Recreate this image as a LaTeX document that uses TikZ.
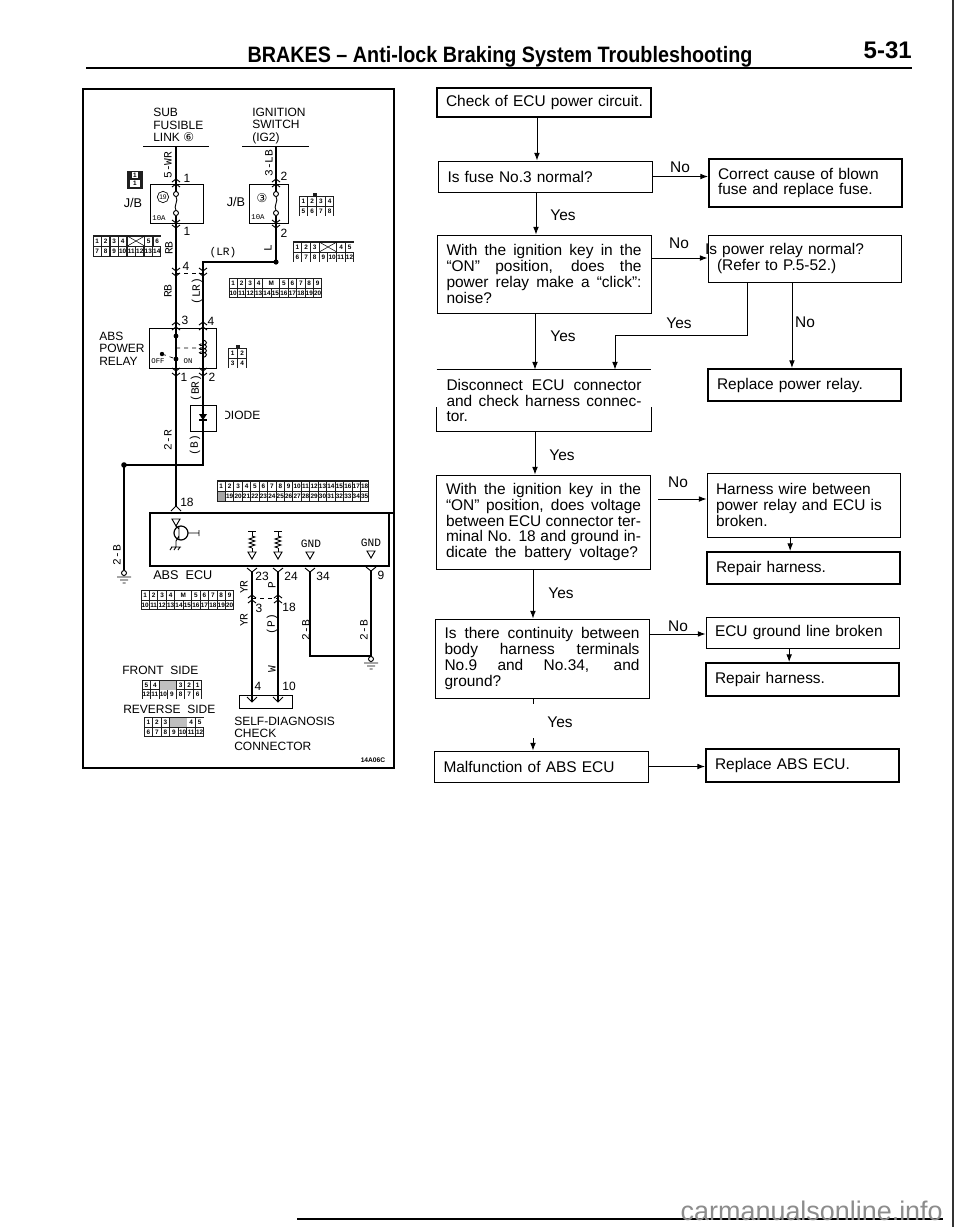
\documentclass[tikz,border=0pt]{standalone}
\usepackage{fontspec}
\setmainfont{Liberation Sans}
\newfontfamily\monofam{Liberation Mono}
\newfontfamily\symfam{DejaVu Sans}
\usetikzlibrary{arrows.meta,decorations.pathmorphing}
\tikzset{>={Latex[width=1.5mm,length=2mm]}}
\newcommand\spreadline[2]{\makebox[#1pt][s]{#2}}
\tikzset{
  flowbox/.style={draw,line width=0.7pt,inner sep=0pt,minimum width=160.5pt,text width=146.25pt,align=justify,font=\fontsize{11.6pt}{11.8pt}\selectfont},
  endbox/.style={draw,line width=0.7pt,inner sep=0pt,minimum width=144.75pt,text width=131.25pt,align=left,font=\fontsize{11.6pt}{11.8pt}\selectfont},
  heavy/.style={line width=1.5pt},
  bare/.style={draw=none},
  flowline/.style={->,line width=0.7pt},
  tag/.style={inner sep=0pt,font=\fontsize{11.6pt}{11.8pt}\selectfont},
  wire/.style={line width=1.1pt},
  thinwire/.style={line width=0.7pt},
  frameline/.style={line width=1.1pt},
  wiretag/.style={inner sep=0pt,rotate=90,font=\monofam\fontsize{8.4pt}{9pt}\selectfont},
  pinnum/.style={inner sep=0pt,font=\fontsize{9pt}{9pt}\selectfont},
  heading/.style={inner sep=0pt,anchor=west,align=left,font=\fontsize{9pt}{9.4pt}\selectfont},
  pincell/.style={fill=white,inner sep=0pt,font=\bfseries\fontsize{4.8pt}{5pt}\selectfont},
}
% y runs downward, one unit is one pixel of the page
\newcommand\mateup[2]{\draw[thinwire] (#1-4,#2+3) -- (#1,#2) -- (#1+4,#2+3) (#1-4,#2+8) -- (#1,#2+5) -- (#1+4,#2+8);}
\newcommand\matedown[2]{\draw[thinwire] (#1-4,#2-3) -- (#1,#2) -- (#1+4,#2-3) (#1-4,#2+2) -- (#1,#2+5) -- (#1+4,#2+2);}
\newcommand\forkup[2]{\draw[thinwire] (#1-5,#2-4) -- (#1,#2) -- (#1+5,#2-4);}
\newcommand\gndmark[2]{\draw[thinwire] (#1-4,#2-4) -- (#1+4,#2-4) -- (#1,#2+3) -- cycle;}
\newcommand\earthmark[2]{\draw[thinwire] (#1,#2) circle (2.5) (#1-7,#2+4) -- (#1+7,#2+4) (#1-4,#2+7) -- (#1+4,#2+7) (#1-1.5,#2+10) -- (#1+1.5,#2+10);}
\newcommand\resmark[2]{\draw[thinwire] (#1-4,#2) -- (#1+4,#2) (#1,#2) -- (#1,#2+5);
  \draw[thinwire,decorate,decoration={zigzag,segment length=3pt,amplitude=2.2pt}] (#1,#2+5) -- (#1,#2+17);
  \draw[thinwire] (#1,#2+17) -- (#1,#2+21);
  \gndmark{#1}{#2+25}}
\newcommand\connblock[4]{\fill[black!88] (#1,#2) rectangle ++(#3,#4);}
\newcommand\connrow[6]{\foreach \lab [count=\i from 0] in {#6}
  \path (#2+\i*#4+#4/2,#3) node (#1-\i) [pincell,minimum width=#4*0.75pt-0.8pt,minimum height=#5*0.75pt] {\lab};}
\newcommand\crosscell[5]{\path (#2,#3) node (#1) [pincell,minimum width=#4*0.75pt-0.8pt,minimum height=#5*0.75pt] {};
  \draw[line width=0.4pt] (#1.north west) -- (#1.south east) (#1.north east) -- (#1.south west);}

\begin{document}
\begin{tikzpicture}[x=0.75pt,y=-0.75pt]
\useasboundingbox (0,0) rectangle (960,1229);

\path (500,62) node (pagetitle) [anchor=base,inner sep=0pt,xscale=0.887,transform shape,font=\bfseries\fontsize{16.7pt}{17pt}\selectfont] {BRAKES -- Anti-lock Braking System Troubleshooting};

\path (912,58) node (pagenumber) [anchor=base east,inner sep=0pt,font=\bfseries\fontsize{18pt}{18pt}\selectfont] {5-31};

\coordinate (ruletop) at (86,68);
\draw[line width=1.9pt] (ruletop) -- (912,68);

\coordinate (rulefoot) at (297,1219);
\draw[line width=1.5pt] (rulefoot) -- (943,1219);

\coordinate (edgeright) at (953,0);
\draw[line width=0.8pt,black!80] (edgeright) -- (953,1227);

\path (943,1220) node (sitemark) [anchor=base east,inner sep=0pt,text=black!45,font=\fontsize{20.2pt}{21pt}\selectfont] {carmanualsonline.info};

\draw[frameline] (83,89) rectangle (394,768);

\path (153,125) node (fusehead) [heading] {SUB\\FUSIBLE\\LINK {\symfam ⑥}};

\path (252,126) node (switchhead) [heading] {IGNITION\\SWITCH\\(IG2)};

\draw[line width=0.6pt] (143,146) -- (209,146) (242,146) -- (309,146);

\path (176.5,203.5) node (jbleft) [draw,line width=0.6pt,minimum width=39.75pt,minimum height=29.25pt] {};

\path (268.5,203.5) node (jbright) [draw,line width=0.6pt,minimum width=29.25pt,minimum height=29.25pt] {};

\path (133,203) node (jbtextl) [tag,font=\fontsize{9.5pt}{10pt}\selectfont] {J/B};

\path (236,202) node (jbtextr) [tag,font=\fontsize{9.5pt}{10pt}\selectfont] {J/B};

\path (163,197) node (circlel) [circle,draw,line width=0.5pt,inner sep=0pt,minimum size=8.5pt,font=\fontsize{5pt}{5pt}\selectfont] {19};

\path (262,198) node (circler) [tag,font=\symfam\fontsize{9pt}{9pt}\selectfont] {③};

\path (159,218) node (ampl) [tag,font=\monofam\fontsize{5.5pt}{6pt}\selectfont] {10A};

\path (258,217) node (ampr) [tag,font=\monofam\fontsize{5.5pt}{6pt}\selectfont] {10A};

\draw[wire] (176,146) -- (176,191.5) (176,215.5) -- (176,506);

\draw[wire] (276,146) -- (276,191.5) (276,215.5) -- (276,262) -- (203,262) -- (203,465) -- (124,465) -- (124,570);

\fill (276,262) circle (2.6);

\fill (124,465) circle (2.8);

\foreach \fx in {176,276} {
  \draw[thinwire] (\fx,194) circle (2.5) (\fx,213) circle (2.5);
  \draw[thinwire] (\fx,196.5) .. controls (\fx+3,201) and (\fx-3,206) .. (\fx,210.5);
}

\mateup{176}{179}
\mateup{276}{179}
\matedown{176}{223}
\matedown{276}{223}
\matedown{176}{271}
\matedown{203}{271}
\mateup{176}{322}
\mateup{203}{322}
\matedown{176}{371}
\matedown{203}{371}

\draw[thinwire,dashed] (176,273) -- (203,273);

\path (187,178) node (pina) [pinnum] {1};

\path (284,176) node (pinb) [pinnum] {2};

\path (187,231) node (pinc) [pinnum] {1};

\path (284,233) node (pind) [pinnum] {2};

\path (186,266) node (pine) [pinnum] {4};

\path (185,320) node (pinf) [pinnum] {3};

\path (211,321) node (ping) [pinnum] {4};

\path (184,377) node (pinh) [pinnum] {1};

\path (212,377) node (pini) [pinnum] {2};

\path (187,502) node (pinj) [pinnum] {18};

\path (168,165) node (tagwr) [wiretag] {5-WR};

\path (269,163) node (taglb) [wiretag] {3-LB};

\path (169,248) node (tagrb) [wiretag] {RB};

\path (268,248) node (tagl) [wiretag] {L};

\path (168,291) node (tagrbb) [wiretag] {RB};

\path (197,291) node (taglr) [wiretag] {(LR)};

\path (223,253) node (taglrh) [wiretag,rotate=-90] {(LR)};

\path (196,388) node (tagbr) [wiretag] {(BR)};

\path (168,440) node (tagr) [wiretag] {2-R};

\path (195,445) node (tagb) [wiretag] {(B)};

\path (117,555) node (tagbb) [wiretag] {2-B};

\path (182.5,348) node (relaybox) [draw,line width=0.6pt,minimum width=50.25pt,minimum height=30pt] {};

\path (99,348.5) node (relayhead) [heading] {ABS\\POWER\\RELAY};

\fill (176,336) circle (2.4) (176,359) circle (2.4) (162,354) circle (2.2);

\draw[line width=0.5pt,dashed] (176,348) -- (203,348) (162,354) -- (176,359);

\draw[thinwire,decorate,decoration={coil,aspect=0.5,segment length=3pt,amplitude=2.6pt}] (203,340) -- (203,359);

\path (158,361) node (offtag) [tag,font=\monofam\fontsize{5.5pt}{6pt}\selectfont] {OFF};

\path (188,361) node (ontag) [tag,font=\monofam\fontsize{5.5pt}{6pt}\selectfont] {ON};

\path (203,418) node (diodebox) [draw,line width=0.6pt,fill=white,minimum width=19.5pt,minimum height=19.5pt] {};

\draw[wire] (203,405) -- (203,431);

\fill (199,414) -- (207,414) -- (203,420) -- cycle;

\draw[line width=0.9pt] (199,420) -- (207,420);

\path (222,415) node (diodetext) [heading] {DIODE};

% the scan has lost the stem of the first letter
\fill[white] (220.5,409) rectangle (224.5,421);

\draw[thinwire] (171,511) -- (176,506) -- (181,511);

\draw[frameline] (394,513) -- (150,513) -- (150,566) -- (389,566) -- (389,513);

\path (153,575) node (ecutext) [heading,font=\fontsize{9.5pt}{10pt}\selectfont] {ABS\ \ ECU};

\gndmark{176}{523}

\draw[line width=0.9pt] (181,533) circle (7);

\draw[thinwire] (176,526) -- (179,529) (179,527) -- (179,539) (179,536) -- (176,541) -- (176,547) (188,533) -- (199,533) (199,530) -- (199,536) (171,547) -- (181,547) (172,547) -- (170,550) (176,547) -- (174,550) (180,547) -- (178,550);

\resmark{252}{531}
\resmark{278}{531}

\path (311,544) node (gndone) [tag,font=\monofam\fontsize{8.4pt}{9pt}\selectfont] {GND};

\path (371,543) node (gndtwo) [tag,font=\monofam\fontsize{8.4pt}{9pt}\selectfont] {GND};

\gndmark{310}{556}
\gndmark{371}{555}

\forkup{252}{572}
\forkup{278}{572}
\forkup{310}{572}
\forkup{371}{571}

\draw[wire] (252,572) -- (252,702) (278,572) -- (278,702);

\draw[wire] (310,572) -- (310,656) -- (371,656) -- (371,571);

\mateup{252}{595}
\mateup{278}{595}

\draw[thinwire,dashed] (252,598) -- (278,598);

\earthmark{124}{573}
\earthmark{371}{659}

\path (262,576) node (pink) [pinnum] {23};

\path (291,576) node (pinl) [pinnum] {24};

\path (323,576) node (pinm) [pinnum] {34};

\path (381,575) node (pinn) [pinnum] {9};

\path (259,608) node (pino) [pinnum] {3};

\path (289,607) node (pinp) [pinnum] {18};

\path (258,686) node (pinq) [pinnum] {4};

\path (289,686) node (pinr) [pinnum] {10};

\path (244,587) node (tagyr) [wiretag] {YR};

\path (272,585) node (tagp) [wiretag] {P};

\path (244,620) node (tagyrb) [wiretag] {YR};

\path (272,624) node (tagpb) [wiretag] {(P)};

\path (272,669) node (tagw) [wiretag] {W};

\path (306,630) node (tagbc) [wiretag] {2-B};

\path (364,630) node (tagbd) [wiretag] {2-B};

\draw[line width=0.6pt] (239,695) rectangle (292,708);

\draw[thinwire] (247,697) -- (252,702) -- (257,697) (273,697) -- (278,702) -- (283,697);

\path (122,670) node (fronttext) [heading] {FRONT\ \ SIDE};

\path (123,709) node (reversetext) [heading] {REVERSE\ \ SIDE};

\path (234,733.5) node (checktext) [heading] {SELF-DIAGNOSIS\\CHECK\\CONNECTOR};

\path (373,760) node (figcode) [inner sep=0pt,font=\bfseries\fontsize{5pt}{6pt}\selectfont] {14A06C};

\connblock{127}{171}{16}{18}
\connrow{cona}{131}{175}{8}{6}{1}
\connrow{conb}{129}{183.5}{12}{7}{1}

\connblock{93}{235}{68}{22}
\connrow{conc}{93}{241}{8.5}{9}{1,2,3,4}
\crosscell{concx}{136}{241}{17}{9}
\connrow{cond}{144.5}{241}{8.5}{9}{5,6}
\connrow{cone}{93}{251}{8.5}{9}{7,8,9,10,11,12,13,14}

\fill[black!88] (313,193) rectangle (317,197);
\connblock{299}{196}{35}{20}
\connrow{conf}{299}{201}{8.75}{9}{1,2,3,4}
\connrow{cong}{299}{211}{8.75}{9}{5,6,7,8}

\connblock{293}{241}{61}{21}
\connrow{conh}{293}{247}{8.7}{9}{1,2,3}
\crosscell{conhx}{328}{247}{17.4}{9}
\connrow{coni}{336.7}{247}{8.7}{9}{4,5}
\connrow{conj}{293}{257}{8.7}{9}{6,7,8,9,10,11,12}

\connblock{229}{278}{93}{20}
\connrow{conk}{229}{283.5}{8.45}{8.5}{1,2,3,4}
\connrow{conl}{262.8}{283.5}{16.9}{8.5}{M}
\connrow{conm}{279.7}{283.5}{8.45}{8.5}{5,6,7,8,9}
\connrow{conn}{229}{293}{8.45}{8.5}{10,11,12,13,14,15,16,17,18,19,20}

\fill[black!88] (235.5,345) rectangle (239.5,349);
\connblock{228}{348}{19}{20}
\connrow{cono}{228}{353}{9.5}{9}{1,2}
\connrow{conp}{228}{363}{9.5}{9}{3,4}

\connblock{217}{480}{152}{22}
\fill[black!35] (217.5,491.5) rectangle (225,500.5);
\connrow{conq}{217}{486}{8.44}{9}{1,2,3,4,5,6,7,8,9,10,11,12,13,14,15,16,17,18}
\connrow{conr}{225.44}{496}{8.44}{9}{19,20,21,22,23,24,25,26,27,28,29,30,31,32,33,34,35}

\connblock{141}{590}{93}{20}
\connrow{cons}{141}{595.5}{8.45}{8.5}{1,2,3,4}
\connrow{cont}{174.8}{595.5}{16.9}{8.5}{M}
\connrow{conu}{191.7}{595.5}{8.45}{8.5}{5,6,7,8,9}
\connrow{conv}{141}{605}{8.45}{8.5}{10,11,12,13,14,15,16,17,18,19,20}

\connblock{142}{680}{60}{19}
\fill[black!25] (159.5,681) rectangle (176,689.5);
\connrow{conw}{142}{685}{8.57}{8.5}{5,4}
\connrow{conx}{176.3}{685}{8.57}{8.5}{3,2,1}
\connrow{cony}{142}{694.5}{8.57}{8.5}{12,11,10,9,8,7,6}

\connblock{144}{717}{60}{20}
\fill[black!25] (170,718) rectangle (186.5,726.5);
\connrow{conz}{144}{722.5}{8.57}{8.5}{1,2,3}
\connrow{conaa}{186.9}{722.5}{8.57}{8.5}{4,5}
\connrow{conab}{144}{732}{8.57}{8.5}{6,7,8,9,10,11,12}

\path (543.5,102.5) node (checkpower) [flowbox,heavy,minimum height=21.75pt,align=left] {\spreadline{146}{Check of ECU power circuit.}};

\path (545,176.5) node (fuseok) [flowbox,minimum height=23.25pt,align=left] {\spreadline{116}{Is fuse No.3 normal?}};

\path (805.5,183) node (fixfuse) [endbox,heavy,minimum height=36pt] {\spreadline{131}{Correct cause of blown}\\\spreadline{120}{fuse and replace fuse.}};

\path (544,274) node (clicknoise) [flowbox,minimum height=58.5pt] {With the ignition key in the\linebreak “ON” position, does the\linebreak power relay make a “click”:\linebreak noise?};

\path (804.5,258.5) node (relayok) [endbox,minimum height=35.25pt] {\hspace*{-9pt}\spreadline{139}{Is power relay normal?}\\\spreadline{91}{(Refer to P.5-52.)}};

\path (544,400.5) node (disconnect) [flowbox,bare,minimum height=45.75pt] {Disconnect ECU connector\linebreak and check harness connec-\linebreak tor.};

\draw[line width=0.7pt] (disconnect.north west) -- (disconnect.north east);

\draw[line width=0.7pt] ([yshift=18pt]disconnect.south west) -- (disconnect.south west) -- (disconnect.south east) -- ([yshift=18pt]disconnect.south east);

\path (804.5,385) node (newrelay) [endbox,heavy,minimum height=24pt] {\spreadline{110}{Replace power relay.}};

\path (543.5,522) node (batteryvolt) [flowbox,minimum height=70.5pt] {With the ignition key in the\linebreak “ON” position, does voltage\linebreak between ECU connector ter-\linebreak minal No. 18 and ground in-\linebreak \spreadline{144}{dicate the battery voltage?}};

\path (803.5,505) node (harnessbad) [endbox,minimum height=48pt] {\spreadline{131}{Harness wire between}\\\spreadline{131}{power relay and ECU is}\\broken.};

\path (803.5,568) node (repairone) [endbox,heavy,minimum height=24pt] {\spreadline{82}{Repair harness.}};

\path (542,658.5) node (continuity) [flowbox,minimum height=59.25pt] {Is there continuity between\linebreak body harness terminals\linebreak No.9 and No.34, and\linebreak ground?};

\path (802.5,632.5) node (groundbad) [endbox,minimum height=23.25pt] {\spreadline{129}{ECU ground line broken}};

\path (802.5,679.5) node (repairtwo) [endbox,heavy,minimum height=24.75pt] {\spreadline{82}{Repair harness.}};

\path (541,766.5) node (ecufault) [flowbox,minimum height=23.25pt,align=left] {\spreadline{135}{Malfunction of ABS ECU}};

\path (802.5,765.5) node (newecu) [endbox,heavy,minimum height=24.75pt] {\spreadline{99}{Replace ABS ECU.}};

\draw[flowline] ([xshift=-4.9pt]checkpower.south) -- ([xshift=-4.9pt]checkpower.south |- fuseok.north);

\draw[flowline] (fuseok.east) -- (fuseok.east -| fixfuse.west);

\draw[flowline] ([xshift=-6.75pt]fuseok.south) -- ([xshift=-6.75pt]fuseok.south |- clicknoise.north);

\draw[flowline] ([yshift=12pt]clicknoise.east) -- ([yshift=12pt]clicknoise.east -| relayok.west);

\draw[flowline] ([xshift=-6.75pt]clicknoise.south) -- ([xshift=-6.75pt]clicknoise.south |- disconnect.north);

\coordinate (relayjog) at (615,335);
\draw[flowline] ([xshift=-43pt]relayok.south) |- (relayjog) -- (relayjog |- disconnect.north);

\draw[flowline] ([xshift=-9.4pt]relayok.south) -- ([xshift=-9.4pt]relayok.south |- newrelay.north);

\draw[flowline] ([xshift=-6.75pt]disconnect.south) -- ([xshift=-6.75pt]disconnect.south |- batteryvolt.north);

\coordinate (harnessin) at (658,499);
\draw[flowline] (harnessin) -- (harnessin -| harnessbad.west);

\draw[flowline] ([xshift=-10pt]harnessbad.south) -- ([xshift=-10pt]harnessbad.south |- repairone.north);

\draw[flowline] ([xshift=-7.9pt]batteryvolt.south) -- ([xshift=-7.9pt]batteryvolt.south |- continuity.north);

\draw[flowline] ([yshift=18.4pt]continuity.east) -- ([yshift=18.4pt]continuity.east -| groundbad.west);

\draw[flowline] ([xshift=-10pt]groundbad.south) -- ([xshift=-10pt]groundbad.south |- repairtwo.north);

\draw[line width=0.7pt] ([xshift=-6.75pt]continuity.south) -- ++(0,6);

\coordinate (faultin) at (533,738);
\draw[flowline] (faultin) -- (faultin |- ecufault.north);

\draw[flowline] (ecufault.east) -- (ecufault.east -| newecu.west);

\path (680,167) node (nofuse) [tag] {No};

\path (563,215) node (yesfuse) [tag] {Yes};

\path (679,243) node (noclick) [tag] {No};

\path (563,336) node (yesclick) [tag] {Yes};

\path (679,323) node (yesrelay) [tag] {Yes};

\path (805,322) node (norelay) [tag] {No};

\path (562,455) node (yesdisc) [tag] {Yes};

\path (678,482) node (novolt) [tag] {No};

\path (561,593) node (yesvolt) [tag] {Yes};

\path (678,626) node (nocont) [tag] {No};

\path (560,722) node (yescont) [tag] {Yes};

\end{tikzpicture}
\end{document}
